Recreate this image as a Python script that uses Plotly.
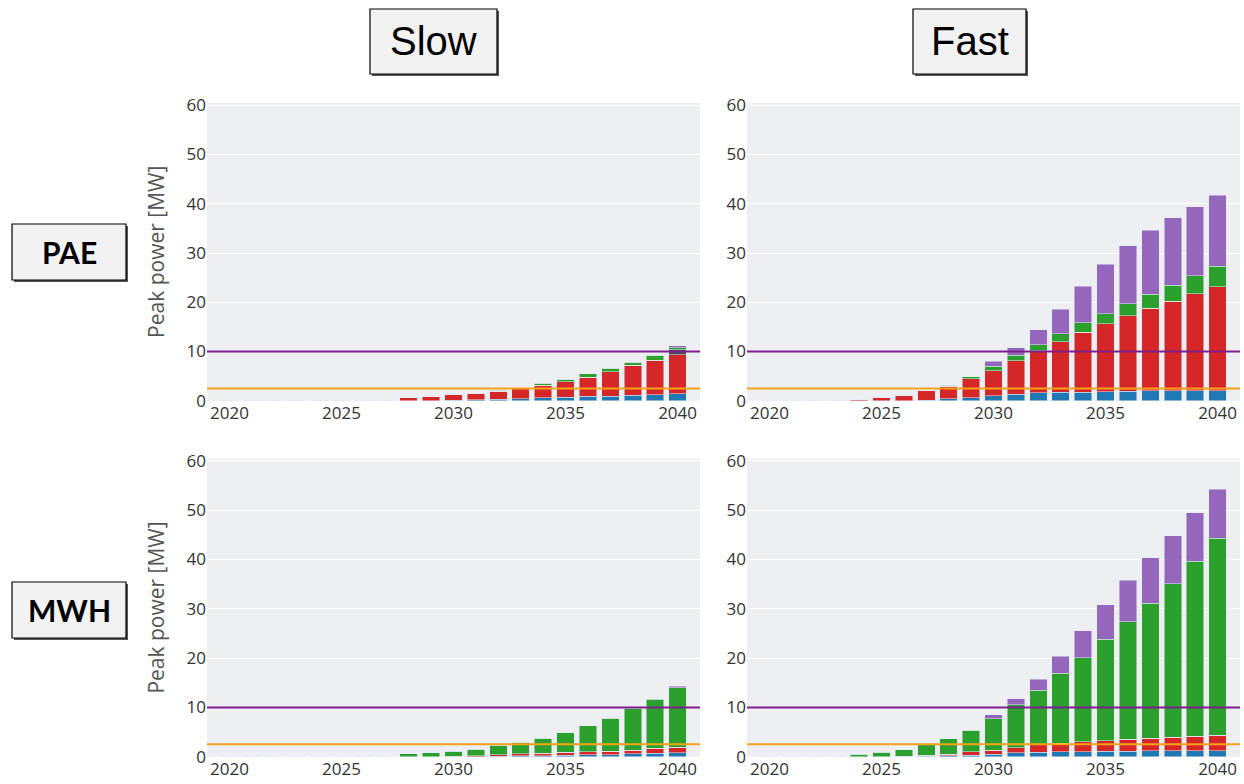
import plotly.graph_objects as go
from plotly.subplots import make_subplots

years = list(range(2020, 2041))

# ---- Slow / PAE (top-left) ----
slow_pae_blue   = [0]*10 + [0.1, 0.2, 0.3, 0.4, 0.6, 0.75, 0.9, 0.95, 1.1, 1.2, 1.4]
slow_pae_red    = [0]*8 + [0.6, 0.8, 1.1, 1.35, 1.6, 2.0, 2.6, 3.15, 3.9, 4.95, 6.1, 7.0, 7.95]
slow_pae_grey   = [0]*20 + [1.0]
slow_pae_green  = [0]*12 + [0.2, 0.2, 0.4, 0.5, 0.7, 0.7, 0.6, 1.0, 0.4]
slow_pae_purple = [0]*20 + [0.45]

# ---- Fast / PAE (top-right) ----
fast_pae_blue   = [0]*6 + [0.05, 0.15, 0.4, 0.6, 1.0, 1.3, 1.6, 1.7, 1.7, 1.8, 1.9, 2.0, 2.0, 2.0, 2.0]
fast_pae_red    = [0]*4 + [0.35, 0.75, 1.1, 1.85, 2.6, 3.9, 5.1, 6.8, 8.6, 10.3, 12.2, 13.8, 15.4, 16.8, 18.2, 19.7, 21.2]
fast_pae_grey   = [0]*21
fast_pae_green  = [0]*8 + [0.2, 0.4, 0.9, 1.1, 1.2, 1.6, 1.9, 2.1, 2.4, 2.8, 3.3, 3.7, 4.1]
fast_pae_purple = [0]*10 + [1.0, 1.6, 3.0, 5.0, 7.5, 10.0, 11.8, 13.0, 13.7, 14.0, 14.4]

# ---- Slow / MWH (bottom-left) ----
slow_mwh_blue   = [0]*12 + [0.1, 0.15, 0.2, 0.3, 0.35, 0.4, 0.55, 0.7, 0.8]
slow_mwh_red    = [0]*10 + [0.1, 0.2, 0.25, 0.4, 0.5, 0.6, 0.65, 0.75, 0.8, 1.0, 1.1]
slow_mwh_grey   = [0]*21
slow_mwh_green  = [0]*8 + [0.55, 0.8, 1.05, 1.35, 1.95, 2.35, 3.0, 4.0, 5.3, 6.65, 8.45, 9.9, 12.1]
slow_mwh_purple = [0]*19 + [0.1, 0.3]

# ---- Fast / MWH (bottom-right) ----
fast_mwh_blue   = [0]*6 + [0.05, 0.1, 0.2, 0.3, 0.5, 0.8, 0.9, 1.0, 1.0, 1.1, 1.1, 1.2, 1.2, 1.2, 1.2]
fast_mwh_red    = [0]*6 + [0.05, 0.15, 0.3, 0.7, 0.8, 1.0, 1.5, 1.7, 2.0, 2.1, 2.4, 2.5, 2.7, 2.9, 3.2]
fast_mwh_grey   = [0]*21
fast_mwh_green  = [0]*4 + [0.45, 0.9, 1.3, 2.25, 3.1, 4.4, 6.4, 8.7, 11.1, 14.2, 17.1, 20.6, 23.9, 27.4, 31.2, 35.5, 39.9]
fast_mwh_purple = [0]*10 + [0.8, 1.2, 2.2, 3.5, 5.4, 7.0, 8.4, 9.2, 9.7, 9.9, 9.9]

limit_high = 10.0
limit_low = 2.5

column_labels = ["Slow", "Fast"]
row_labels = ["PAE", "MWH"]
y_title = "Peak power [MW]"
x_ticks = [2020, 2025, 2030, 2035, 2040]
y_ticks = [0, 10, 20, 30, 40, 50, 60]

series_colors = ["#1f77b4", "#d62728", "#4d4d4d", "#2ca02c", "#9467bd"]

panels = {
    (1, 1): [slow_pae_blue, slow_pae_red, slow_pae_grey, slow_pae_green, slow_pae_purple],
    (1, 2): [fast_pae_blue, fast_pae_red, fast_pae_grey, fast_pae_green, fast_pae_purple],
    (2, 1): [slow_mwh_blue, slow_mwh_red, slow_mwh_grey, slow_mwh_green, slow_mwh_purple],
    (2, 2): [fast_mwh_blue, fast_mwh_red, fast_mwh_grey, fast_mwh_green, fast_mwh_purple],
}

W, H = 1244, 784
fig = make_subplots(rows=2, cols=2)

for (r, c), series in panels.items():
    for vals, col in zip(series, series_colors):
        fig.add_trace(go.Bar(x=years, y=vals, marker=dict(color=col, line=dict(color="#E5ECF6", width=0.5)),
                             showlegend=False), row=r, col=c)
    fig.add_hline(y=limit_high, line=dict(color="#7e1e8e", width=2), row=r, col=c)
    fig.add_hline(y=limit_low, line=dict(color="#f7a21b", width=2), row=r, col=c)

# pixel geometry of plot areas
xdom = {1: (207, 700), 2: (747, 1240)}
ydom = {1: (102.8, 400.8), 2: (458.3, 756.7)}

def px_x(a, b):
    return [a / W, b / W]

def px_y(top, bot):
    return [1 - bot / H, 1 - top / H]

tick_font = dict(family="Open Sans", size=17, color="#333333")
for r in (1, 2):
    for c in (1, 2):
        fig.update_xaxes(domain=px_x(*xdom[c]), range=[2019, 2041], tickvals=x_ticks,
                         showgrid=False, zeroline=False, tickfont=tick_font, automargin=False,
                         row=r, col=c)
        fig.update_yaxes(domain=px_y(*ydom[r]), range=[0, 60.5], tickvals=y_ticks,
                         gridcolor="white", gridwidth=1, zeroline=False, tickfont=tick_font,
                         automargin=False, row=r, col=c)
        if c == 1:
            fig.update_yaxes(title=dict(text=y_title, font=dict(family="Open Sans", size=21, color="#555555"),
                                        standoff=16), row=r, col=c)

fig.update_layout(
    width=W, height=H, margin=dict(l=0, r=0, t=0, b=0, autoexpand=False),
    barmode="stack", bargap=0.22,
    plot_bgcolor="#EDEFF3", paper_bgcolor="white",
    showlegend=False,
)

# label boxes
boxes = [
    (column_labels[0], 370, 9, 497, 74, dict(family="Liberation Sans", size=40, color="black")),
    (column_labels[1], 913, 9, 1026, 74, dict(family="Liberation Sans", size=40, color="black")),
    (row_labels[0], 12, 224, 126, 280, dict(family="Lato", size=30, color="black", weight="bold")),
    (row_labels[1], 12, 582, 126, 638, dict(family="Lato", size=30, color="black", weight="bold")),
]
for text, x0, y0, x1, y1, font in boxes:
    fig.add_shape(type="rect", xref="paper", yref="paper",
                  x0=(x0 + 2) / W, x1=(x1 + 2) / W, y0=1 - (y1 + 2) / H, y1=1 - (y0 + 2) / H,
                  line=dict(width=0), fillcolor="#555555", layer="above")
    fig.add_shape(type="rect", xref="paper", yref="paper",
                  x0=x0 / W, x1=x1 / W, y0=1 - y1 / H, y1=1 - y0 / H,
                  line=dict(color="black", width=1.2), fillcolor="#F2F2F2", layer="above")
    fig.add_annotation(text=text, xref="paper", yref="paper",
                       x=(x0 + x1) / 2 / W, y=1 - (y0 + y1) / 2 / H,
                       xanchor="center", yanchor="middle", showarrow=False, font=font)

page_fix = ("document.body.style.margin='0px';document.body.style.overflow='hidden';"
            "var d=document.getElementById('{plot_id}');d.style.position='absolute';"
            "d.style.left='0px';d.style.top='0px';")
fig.write_html("out.html", post_script=page_fix, config={"displayModeBar": False})
